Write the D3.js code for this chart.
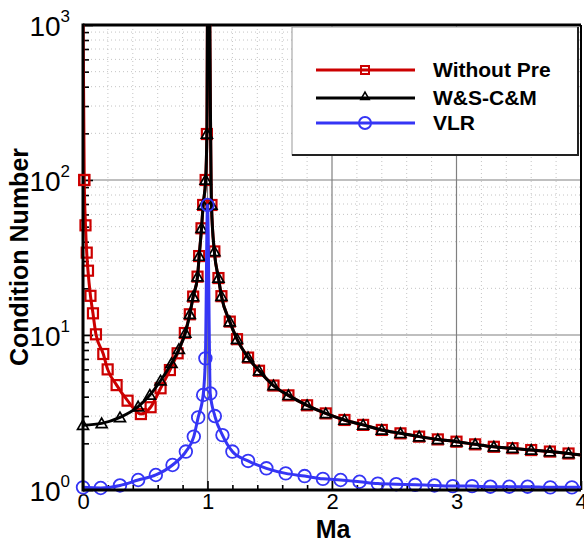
<!DOCTYPE html>
<html>
<head>
<meta charset="utf-8">
<script src="https://cdn.jsdelivr.net/npm/d3@7"></script>
<style>
  body { margin: 0; background: #fff; }
  text { font-family: "Liberation Sans", Arial, sans-serif; }
</style>
</head>
<body>
<svg id="chart" width="584" height="545"></svg>
<script>
// values
const withoutPreMa = [0.001, 0.01, 0.02, 0.03, 0.04, 0.06, 0.08, 0.104, 0.163, 0.198, 0.27, 0.358, 0.465, 0.543, 0.623, 0.698, 0.76, 0.818,
  0.858, 0.885, 0.92, 0.933, 0.952, 0.965, 0.985, 0.995, 1.005, 1.032, 1.055, 1.088, 1.112, 1.179, 1.237, 1.326, 1.414, 1.53,
  1.65, 1.8, 1.95, 2.1, 2.25, 2.4, 2.55, 2.7, 2.85, 3.0, 3.15, 3.3, 3.45, 3.6, 3.75, 3.9, 4.0];
const withoutPreVal = [1000, 100, 51, 34, 26, 17.9, 13.8, 10.1, 7.54, 6.0, 4.75, 3.77, 3.09, 3.42, 4.53, 5.94, 7.62, 10.3,
  13.6, 17.7, 23.8, 32.3, 48.8, 69, 100, 198, 10000, 69, 34.6, 23.3, 17.8, 12.2, 9.4, 7.15, 5.88, 4.72,
  4.08, 3.52, 3.12, 2.83, 2.63, 2.44, 2.32, 2.21, 2.12, 2.05, 1.97, 1.9, 1.86, 1.81, 1.77, 1.72, 1.68];

const wsMa = [0, 0.15, 0.297, 0.443, 0.537, 0.623, 0.711, 0.77, 0.822,
  0.858, 0.885, 0.92, 0.933, 0.952, 0.965, 0.985, 0.995, 1.005, 1.032, 1.055, 1.088, 1.112, 1.179, 1.237, 1.326, 1.414, 1.53,
  1.65, 1.8, 1.95, 2.1, 2.25, 2.4, 2.55, 2.7, 2.85, 3.0, 3.15, 3.3, 3.45, 3.6, 3.75, 3.9, 4.0];
const wsVal = [2.62, 2.69, 2.94, 3.45, 4.1, 5.07, 6.57, 8.09, 10.3,
  13.6, 17.7, 23.8, 32.3, 48.8, 69, 100, 198, 10000, 69, 34.6, 23.3, 17.8, 12.2, 9.4, 7.15, 5.88, 4.72,
  4.08, 3.52, 3.12, 2.83, 2.63, 2.44, 2.32, 2.21, 2.12, 2.05, 1.97, 1.9, 1.86, 1.81, 1.77, 1.72, 1.68];

const vlrMa = [0, 0.142, 0.297, 0.443, 0.585, 0.719, 0.826, 0.89, 0.925, 0.965, 0.983, 1.0, 1.022, 1.059, 1.12, 1.2, 1.326,
  1.473, 1.628, 1.78, 1.927, 2.069, 2.221, 2.368, 2.516, 2.668, 2.823, 2.97, 3.125, 3.272, 3.424, 3.571, 3.753, 3.927, 4.0];
const vlrVal = [1.04, 1.03, 1.07, 1.16, 1.25, 1.45, 1.77, 2.21, 2.94, 4.1, 7.07, 69, 4.2, 3.0, 2.26, 1.77, 1.54,
  1.38, 1.28, 1.23, 1.18, 1.16, 1.13, 1.1, 1.09, 1.08, 1.07, 1.06, 1.06, 1.05, 1.05, 1.05, 1.04, 1.04, 1.04];

const seriesNames = ["Without Pre", "W&S-C&M", "VLR"];
const xMajorTicks = [0, 1, 2, 3, 4];
const xMinorTicks = [0.2, 0.4, 0.6, 0.8, 1.2, 1.4, 1.6, 1.8, 2.2, 2.4, 2.6, 2.8, 3.2, 3.4, 3.6, 3.8];
const yMajorTicks = [1, 10, 100, 1000];
const yMinorTicks = [2, 3, 4, 5, 6, 7, 8, 9, 20, 30, 40, 50, 60, 70, 80, 90, 200, 300, 400, 500, 600, 700, 800, 900];
const yTickExp = ["0", "1", "2", "3"];

const svg = d3.select("#chart");
const pLeft = 83, pRight = 581, pTop = 25, pBottom = 490;

const x = d3.scaleLinear().domain([0, 4]).range([pLeft, pRight]);
const y = d3.scaleLog().domain([1, 1000]).range([pBottom, pTop]);

// minor grid (dotted)
const grid = svg.append("g");
grid.selectAll(".vmin").data(xMinorTicks).join("line")
  .attr("x1", d => x(d)).attr("x2", d => x(d)).attr("y1", pTop).attr("y2", pBottom)
  .attr("stroke", "#c4c4c4").attr("stroke-dasharray", "1,3");
grid.selectAll(".hmin").data(yMinorTicks).join("line")
  .attr("y1", d => y(d)).attr("y2", d => y(d)).attr("x1", pLeft).attr("x2", pRight)
  .attr("stroke", "#c4c4c4").attr("stroke-dasharray", "1,3");
// major grid
grid.selectAll(".vmaj").data(xMajorTicks.slice(1, -1)).join("line")
  .attr("x1", d => x(d)).attr("x2", d => x(d)).attr("y1", pTop).attr("y2", pBottom)
  .attr("stroke", "#808080").attr("stroke-width", 1.2);
grid.selectAll(".hmaj").data(yMajorTicks.slice(1, -1)).join("line")
  .attr("y1", d => y(d)).attr("y2", d => y(d)).attr("x1", pLeft).attr("x2", pRight)
  .attr("stroke", "#808080").attr("stroke-width", 1.2);

// axes with inward ticks
const xAxis = svg.append("g").attr("transform", `translate(0,${pBottom})`)
  .call(d3.axisBottom(x).tickValues(xMajorTicks).tickSize(-9).tickPadding(20).tickFormat(d3.format("d")));
svg.append("g").attr("transform", `translate(0,${pBottom})`)
  .call(d3.axisBottom(x).tickValues(xMinorTicks).tickSize(-5).tickFormat(""));
const yAxis = svg.append("g").attr("transform", `translate(${pLeft},0)`)
  .call(d3.axisLeft(y).tickValues(yMajorTicks).tickSize(-10).tickPadding(12).tickFormat(() => "10"));
svg.append("g").attr("transform", `translate(${pLeft},0)`)
  .call(d3.axisLeft(y).tickValues(yMinorTicks).tickSize(-6).tickFormat(""));

svg.selectAll(".domain").remove();
svg.selectAll(".tick line").attr("stroke", "#000").attr("stroke-width", 1.6);

xAxis.selectAll("text").attr("font-size", 22).attr("fill", "#000")
  .attr("dy", 0).attr("y", 19);
yAxis.selectAll("text").attr("font-size", 28).attr("fill", "#000")
  .attr("dy", 0).attr("y", 10).attr("x", -13)
  .each(function (d, i) {
    d3.select(this).append("tspan").attr("font-size", 17).attr("dy", -14).text(yTickExp[i]);
  });

// frame
svg.append("line").attr("x1", pLeft).attr("x2", pRight).attr("y1", pTop).attr("y2", pTop).attr("stroke", "#000").attr("stroke-width", 3);
svg.append("line").attr("x1", pRight).attr("x2", pRight).attr("y1", pTop).attr("y2", pBottom).attr("stroke", "#000").attr("stroke-width", 2);

// curves
svg.append("clipPath").attr("id", "plot-clip").append("rect")
  .attr("x", pLeft).attr("y", pTop).attr("width", pRight - pLeft).attr("height", pBottom - pTop);

const line = d3.line().x(d => x(d[0])).y(d => y(d[1])).curve(d3.curveMonotoneX);

const redPts = d3.zip(withoutPreMa, withoutPreVal);
const blackPts = d3.zip(wsMa, wsVal);
const bluePts = d3.zip(vlrMa, vlrVal);
const red = "#cc0000", black = "#000", blue = "#3535f5";

function drawLine(pts, color) {
  svg.append("path").datum(pts).attr("clip-path", "url(#plot-clip)")
    .attr("fill", "none").attr("stroke", color).attr("stroke-width", 3)
    .attr("stroke-linejoin", "round").attr("d", line);
}
const shown = pts => pts.filter(d => d[1] < 1000 && d[0] < 4);

const tri = d3.symbol().type(d3.symbolTriangle).size(52);

drawLine(redPts, red);
svg.append("g").selectAll("rect").data(shown(redPts)).join("rect")
  .attr("x", d => x(d[0]) - 5).attr("y", d => y(d[1]) - 5).attr("width", 10).attr("height", 10)
  .attr("fill", "none").attr("stroke", red).attr("stroke-width", 2.2);

drawLine(blackPts, black);
svg.append("g").selectAll("path").data(shown(blackPts)).join("path")
  .attr("transform", d => `translate(${x(d[0])},${y(d[1]) + 1})`).attr("d", tri)
  .attr("fill", "none").attr("stroke", black).attr("stroke-width", 1.7);

drawLine(bluePts, blue);
svg.append("g").selectAll("circle").data(shown(bluePts)).join("circle")
  .attr("cx", d => x(d[0])).attr("cy", d => y(d[1])).attr("r", 6.3)
  .attr("fill", "none").attr("stroke", blue).attr("stroke-width", 1.8);

// left and bottom axis lines on top
svg.append("line").attr("x1", pLeft).attr("x2", pLeft).attr("y1", pTop - 1.5).attr("y2", pBottom + 1.5).attr("stroke", "#000").attr("stroke-width", 3);
svg.append("line").attr("x1", pLeft).attr("x2", pRight).attr("y1", pBottom).attr("y2", pBottom).attr("stroke", "#000").attr("stroke-width", 3);
// redraw markers on the left axis so they sit over it
svg.append("g").selectAll("rect").data(shown(redPts).filter(d => d[0] < 0.02)).join("rect")
  .attr("x", d => x(d[0]) - 5).attr("y", d => y(d[1]) - 5).attr("width", 10).attr("height", 10)
  .attr("fill", "none").attr("stroke", red).attr("stroke-width", 2.2);

// axis titles
svg.append("text").attr("x", 333).attr("y", 538).attr("text-anchor", "middle")
  .attr("font-size", 25).attr("font-weight", "bold").text("Ma");
svg.append("text").attr("transform", "translate(28,257) rotate(-90)").attr("text-anchor", "middle")
  .attr("font-size", 25).attr("font-weight", "bold").text("Condition Number");

// legend
const lg = svg.append("g");
lg.append("rect").attr("x", 292).attr("y", 27).attr("width", 286).attr("height", 128)
  .attr("fill", "#fff").attr("stroke", "#9a9a9a").attr("stroke-width", 1);
lg.append("line").attr("x1", 578).attr("x2", 578).attr("y1", 27).attr("y2", 156).attr("stroke", "#222").attr("stroke-width", 2);
lg.append("line").attr("x1", 292).attr("x2", 579).attr("y1", 155).attr("y2", 155).attr("stroke", "#222").attr("stroke-width", 2);

const legendY = [70, 98, 123];
const legendColor = [red, black, blue];
seriesNames.forEach((name, i) => {
  const ly = legendY[i];
  lg.append("line").attr("x1", 316).attr("x2", 415).attr("y1", ly).attr("y2", ly)
    .attr("stroke", legendColor[i]).attr("stroke-width", 3);
  if (i === 0) {
    lg.append("rect").attr("x", 361).attr("y", ly - 4).attr("width", 8).attr("height", 8)
      .attr("fill", "none").attr("stroke", red).attr("stroke-width", 2);
  } else if (i === 1) {
    lg.append("path").attr("transform", `translate(365,${ly - 1})`).attr("d", d3.symbol().type(d3.symbolTriangle).size(30))
      .attr("fill", "none").attr("stroke", black).attr("stroke-width", 1.6);
  } else {
    lg.append("circle").attr("cx", 365).attr("cy", ly).attr("r", 6)
      .attr("fill", "none").attr("stroke", blue).attr("stroke-width", 2);
  }
  lg.append("text").attr("x", 433).attr("y", ly + 7).attr("font-size", 21).attr("font-weight", "bold")
    .text(name);
});
</script>
</body>
</html>
